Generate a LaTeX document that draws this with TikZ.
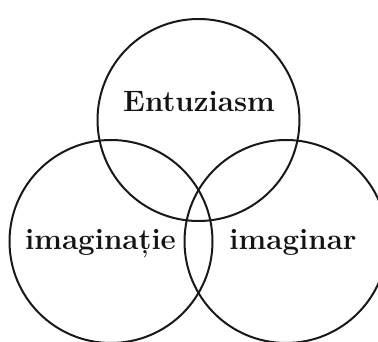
\documentclass[tikz,border=0pt]{standalone}
\usepackage{fontspec}
\begin{document}
\begin{tikzpicture}[x=1pt,y=-1pt,
  ring/.style={draw=black!90,line width=2pt},
  lbl/.style={anchor=base,font=\fontsize{29.5}{34}\selectfont\bfseries,text=black!92,inner sep=0pt}]
\useasboundingbox (0,0) rectangle (378,342);
\draw[ring] (198.5,120) circle (101);
\draw[ring] (111,241.5) circle (101.5);
\draw[ring] (286,241.5) circle (101.5);
\node[lbl] (e) at (199,112) {Entuziasm};
\node[lbl] (i) at (100.5,250) {imaginație};
\node[lbl] (r) at (293,250) {imaginar};
\end{tikzpicture}
\end{document}
